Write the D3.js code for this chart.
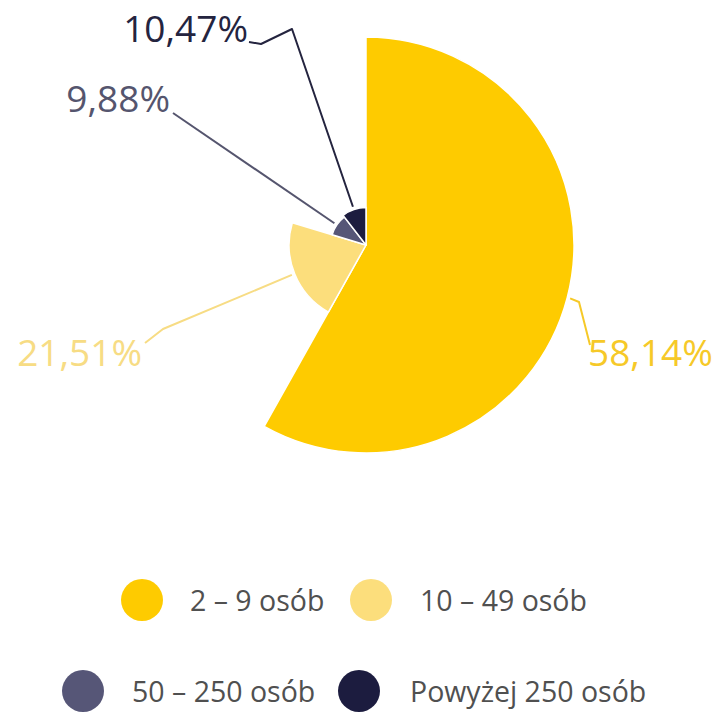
<!DOCTYPE html>
<html>
<head>
<meta charset="utf-8">
<script src="https://cdn.jsdelivr.net/npm/d3@7"></script>
<style>
  html, body { margin: 0; padding: 0; background: #ffffff; }
  svg { display: block; font-family: "Open Sans", "Noto Sans", sans-serif; }
</style>
</head>
<body>
<svg id="chart" width="723" height="713"></svg>
<script>
// Company size groups and their shares (%)
const categories = ["2 – 9 osób", "10 – 49 osób", "50 – 250 osób", "Powyżej 250 osób"];
const shares = [58.14, 21.51, 9.88, 10.47];

const colors = ["#FECB00", "#FCDE7C", "#565677", "#1C1C3F"];
const labelColors = ["#F6C928", "#F7DC84", "#55556E", "#24243F"];

const width = 723, height = 713;
const cx = 366, cy = 245;

const svg = d3.select("#chart");

// Slice radius grows with the share; slice angle is the share of the circle
const rScale = d3.scaleLinear().domain([0, d3.max(shares)]).range([0, 208]);

const data = categories.map((c, i) => ({ name: c, value: shares[i], color: colors[i], labelColor: labelColors[i] }));

const pie = d3.pie().sort(null).value(d => d.value).startAngle(0).endAngle(2 * Math.PI);
const arcs = pie(data);

const arc = d3.arc()
  .innerRadius(0)
  .outerRadius(d => rScale(d.data.value));

const g = svg.append("g").attr("transform", `translate(${cx},${cy})`);

g.selectAll("path.slice")
  .data(arcs)
  .join("path")
  .attr("class", "slice")
  .attr("d", arc)
  .attr("fill", d => d.data.color)
  .attr("stroke", "#ffffff")
  .attr("stroke-width", 1.5)
  .attr("stroke-linejoin", "round");

// Percent labels with Polish decimal comma
const locale = d3.formatLocale({ decimal: ",", thousands: " ", grouping: [3], currency: ["", " zł"] });
const fmt = locale.format(".2f");

// Label layout: elbow points of each leader line and the text anchor (page coordinates)
const labelLayout = [
  { elbows: [[579, 302], [590, 345]], text: [588, 366], anchor: "start" },
  { elbows: [[163, 329], [145, 343]], text: [142, 366], anchor: "end" },
  { elbows: [[173, 113]], text: [170, 112], anchor: "end" },
  { elbows: [[292, 29], [261, 44], [249, 42]], text: [248, 42], anchor: "end" }
];

const line = d3.line().curve(d3.curveLinear);

arcs.forEach((a, i) => {
  const mid = (a.startAngle + a.endAngle) / 2;
  const r0 = rScale(a.data.value) + 3;
  const start = [cx + r0 * Math.sin(mid), cy - r0 * Math.cos(mid)];
  const lay = labelLayout[i];
  svg.append("path")
    .attr("d", line([start, ...lay.elbows]))
    .attr("fill", "none")
    .attr("stroke", a.data.labelColor)
    .attr("stroke-width", 2)
    .attr("stroke-linejoin", "round");
  svg.append("text")
    .attr("x", lay.text[0])
    .attr("y", lay.text[1])
    .attr("text-anchor", lay.anchor)
    .attr("font-size", 37)
    .attr("fill", a.data.labelColor)
    .text(fmt(a.data.value) + "%");
});

// Legend: two rows of two entries
const legendPos = [
  { c: [142, 600], t: 190 },
  { c: [371, 600], t: 420 },
  { c: [83, 691], t: 132 },
  { c: [359, 691], t: 410 }
];

const legend = svg.append("g");
data.forEach((d, i) => {
  const p = legendPos[i];
  legend.append("circle")
    .attr("cx", p.c[0]).attr("cy", p.c[1]).attr("r", 21)
    .attr("fill", d.color);
  legend.append("text")
    .attr("x", p.t).attr("y", p.c[1] + 11)
    .attr("font-size", 28.5)
    .attr("fill", "#505050")
    .text(d.name);
});
</script>
</body>
</html>
